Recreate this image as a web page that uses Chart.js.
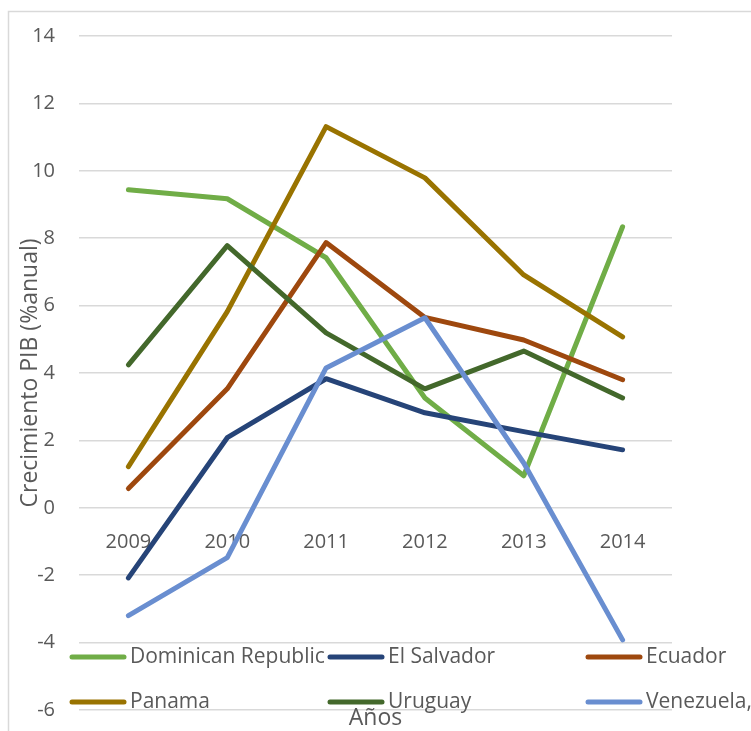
<!DOCTYPE html>
<html>
<head>
<meta charset="utf-8">
<script src="https://cdn.jsdelivr.net/npm/chart.js@4"></script>
<style>
  html, body { margin: 0; padding: 0; background: #ffffff; }
  canvas { display: block; }
</style>
</head>
<body>
<canvas id="gdp-chart" width="751" height="731"></canvas>
<script>
// años y crecimiento del PIB (% anual)
const years = ["2009", "2010", "2011", "2012", "2013", "2014"];
const countries = ["Dominican Republic", "El Salvador", "Ecuador", "Panama", "Uruguay", "Venezuela,"];
const colors = ["#70ad47", "#264478", "#9e480e", "#997300", "#43682b", "#698ed0"];

const dominicanRepublic = [9.44, 9.17, 7.42, 3.26, 0.95, 8.34];
const elSalvador = [-2.08, 2.08, 3.83, 2.82, 2.26, 1.72];
const ecuador = [0.57, 3.53, 7.87, 5.65, 4.98, 3.80];
const panama = [1.22, 5.82, 11.31, 9.79, 6.91, 5.07];
const uruguay = [4.24, 7.78, 5.19, 3.53, 4.65, 3.26];
const venezuela = [-3.20, -1.48, 4.15, 5.64, 1.33, -3.92];

const seriesValues = [dominicanRepublic, elSalvador, ecuador, panama, uruguay, venezuela];

const yMin = -6;
const yMax = 14;
const yStep = 2;

const textColor = "#595959";
const gridColor = "#d9d9d9";
const fontFamily = "'Open Sans', sans-serif";

// marco, leyenda y titulo "Años" dibujados sobre el area del grafico (como en Excel)
const excelExtras = {
    id: "excelExtras",
    beforeDraw(chart) {
        const ctx = chart.ctx;
        ctx.save();
        ctx.strokeStyle = gridColor;
        ctx.lineWidth = 1.5;
        ctx.strokeRect(8.5, 11.5, 800, 800);
        ctx.restore();
    },
    afterDraw(chart) {
        const ctx = chart.ctx;
        const area = chart.chartArea;
        ctx.save();
        ctx.font = "23px " + fontFamily;
        ctx.fillStyle = textColor;
        ctx.textAlign = "center";
        ctx.textBaseline = "middle";
        ctx.fillText("Años", (area.left + area.right) / 2, 718);

        const rows = [657, 702];
        const cols = [70, 328, 586];
        chart.data.datasets.forEach(function (ds, i) {
            const x = cols[i % 3];
            const y = rows[Math.floor(i / 3)];
            ctx.strokeStyle = ds.borderColor;
            ctx.lineWidth = 5;
            ctx.lineCap = "round";
            ctx.beginPath();
            ctx.moveTo(x + 2, y);
            ctx.lineTo(x + 54, y);
            ctx.stroke();
            ctx.fillStyle = textColor;
            ctx.textAlign = "left";
            ctx.font = "21px " + fontFamily;
            ctx.fillText(ds.label, x + 60, y);
        });
        ctx.restore();
    }
};

document.addEventListener("DOMContentLoaded", function () {
    const canvas = document.getElementById("gdp-chart");

    const datasets = countries.map(function (name, i) {
        return {
            label: name,
            data: seriesValues[i],
            borderColor: colors[i],
            backgroundColor: colors[i],
            borderWidth: 5,
            borderCapStyle: "round",
            borderJoinStyle: "round",
            pointRadius: 0,
            pointHoverRadius: 0,
            tension: 0,
            fill: false,
            order: countries.length - i
        };
    });

    new Chart(canvas, {
        type: "line",
        data: {
            labels: years,
            datasets: datasets
        },
        plugins: [excelExtras],
        options: {
            responsive: false,
            animation: false,
            devicePixelRatio: 1,
            layout: {
                padding: { left: 0, right: 79, top: 36, bottom: 21 }
            },
            plugins: {
                legend: { display: false },
                title: { display: false },
                tooltip: { enabled: false }
            },
            scales: {
                x: {
                    type: "category",
                    offset: true,
                    position: { y: 0 },
                    afterFit: function (scale) {
                        scale.height = 0;
                    },
                    grid: { display: false, drawTicks: false },
                    border: { display: false },
                    ticks: {
                        color: textColor,
                        padding: 22,
                        maxRotation: 0,
                        font: { family: fontFamily, size: 20 }
                    }
                },
                y: {
                    position: "left",
                    min: yMin,
                    max: yMax,
                    afterFit: function (scale) {
                        scale.width = 79;
                        scale.paddingTop = 0;
                        scale.paddingBottom = 0;
                    },
                    grid: {
                        color: gridColor,
                        lineWidth: 1.5,
                        drawTicks: false
                    },
                    border: { display: false },
                    ticks: {
                        stepSize: yStep,
                        color: textColor,
                        padding: 24,
                        font: { family: fontFamily, size: 20 }
                    },
                    title: {
                        display: true,
                        text: "Crecimiento PIB (%anual)",
                        color: textColor,
                        padding: { top: 17, bottom: 0 },
                        font: { family: fontFamily, size: 23 }
                    }
                }
            }
        }
    });
});
</script>
</body>
</html>
